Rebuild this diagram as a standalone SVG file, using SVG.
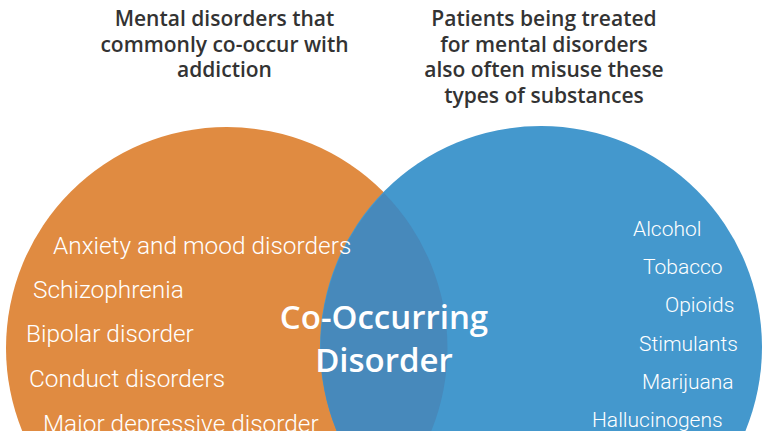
<svg xmlns="http://www.w3.org/2000/svg" width="768" height="431" viewBox="0 0 768 431">
<style>
.title{font-family:"Open Sans","Liberation Sans",sans-serif;font-weight:600;font-size:21px;fill:#333333;text-anchor:middle}
.left{font-family:Roboto,"Liberation Sans",sans-serif;font-weight:300;font-size:24.4px;fill:#ffffff}
.right{font-family:Roboto,"Liberation Sans",sans-serif;font-weight:300;font-size:21px;fill:#ffffff}
.center{font-family:"Open Sans","Liberation Sans",sans-serif;font-weight:600;font-size:33px;fill:#ffffff;text-anchor:middle}
</style>
<rect width="768" height="431" fill="#ffffff"/>
<g id="titles">
<text class="title" x="224.5" y="26">Mental disorders that</text>
<text class="title" x="224.5" y="51.5">commonly co-occur with</text>
<text class="title" x="224.5" y="77">addiction</text>
<text class="title" x="544" y="26">Patients being treated</text>
<text class="title" x="544" y="51.5">for mental disorders</text>
<text class="title" x="544" y="77">also often misuse these</text>
<text class="title" x="544" y="102.5">types of substances</text>
</g>
<g id="mental-disorders">
<circle cx="227" cy="348" r="221" fill="#e08b41"/>
</g>
<g id="substances">
<circle cx="541" cy="347" r="221" fill="#4498cd"/>
</g>
<g id="co-occurring">
<path d="M384,193 A221,221 0 0,1 384,503 A221,221 0 0,1 384,193 Z" fill="#4789bb"/>
<text class="center" x="384" y="329">Co-Occurring</text>
<text class="center" x="384" y="372">Disorder</text>
</g>
<g id="left-list">
<text class="left" x="53" y="254">Anxiety and mood disorders</text>
<text class="left" x="33" y="298">Schizophrenia</text>
<text class="left" x="26" y="342">Bipolar disorder</text>
<text class="left" x="29" y="387">Conduct disorders</text>
<text class="left" x="43" y="432">Major depressive disorder</text>
</g>
<g id="right-list">
<text class="right" x="633" y="236">Alcohol</text>
<text class="right" x="643" y="274">Tobacco</text>
<text class="right" x="665" y="312">Opioids</text>
<text class="right" x="639" y="351">Stimulants</text>
<text class="right" x="642" y="389">Marijuana</text>
<text class="right" x="592" y="427">Hallucinogens</text>
</g>
<g id="connectors"></g>
</svg>
